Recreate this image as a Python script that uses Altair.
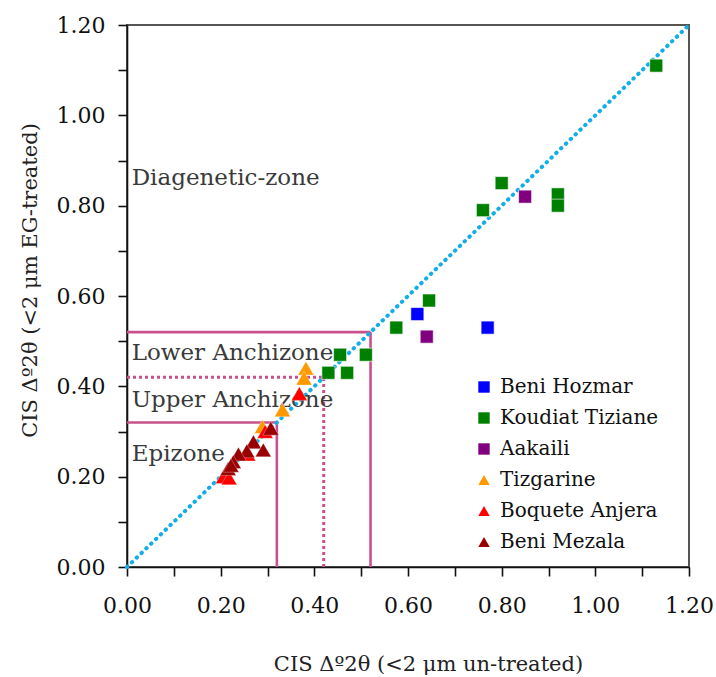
import altair as alt
import pandas as pd

# ---- data ----
sites = ["Beni Hozmar", "Koudiat Tiziane", "Aakaili", "Tizgarine", "Boquete Anjera", "Beni Mezala"]
site_colors = ["#0000ff", "#008000", "#800080", "#ff9900", "#ff0000", "#990000"]
site_shapes = ["square", "square", "square", "triangle-up", "triangle-up", "triangle-up"]
square_sites = ["Beni Hozmar", "Koudiat Tiziane", "Aakaili"]

pt_site = (["Beni Hozmar"] * 2 + ["Koudiat Tiziane"] * 11 + ["Aakaili"] * 2
           + ["Tizgarine"] * 4 + ["Boquete Anjera"] * 5 + ["Beni Mezala"] * 8)
pt_x = [0.62, 0.77,
        0.645, 0.575, 0.455, 0.51, 0.43, 0.47, 1.13, 0.80, 0.76, 0.92, 0.92,
        0.64, 0.85,
        0.382, 0.378, 0.332, 0.289,
        0.368, 0.295, 0.206, 0.218, 0.258,
        0.307, 0.270, 0.291, 0.256, 0.238, 0.227, 0.216, 0.222]
pt_y = [0.56, 0.53,
        0.59, 0.53, 0.47, 0.47, 0.43, 0.43, 1.11, 0.85, 0.79, 0.825, 0.80,
        0.51, 0.82,
        0.44, 0.418, 0.348, 0.311,
        0.384, 0.300, 0.200, 0.197, 0.250,
        0.307, 0.277, 0.259, 0.257, 0.250, 0.233, 0.218, 0.225]

# zone boundary segments (x, x2, y, y2, style)
seg_x = [0, 0.52, 0, 0.32, 0, 0.42]
seg_x2 = [0.52, 0.52, 0.32, 0.32, 0.42, 0.42]
seg_y = [0.52, 0, 0.32, 0, 0.42, 0]
seg_y2 = [0.52, 0.52, 0.32, 0.32, 0.42, 0.42]
seg_style = ["solid", "solid", "solid", "solid", "dotted", "dotted"]

# 1:1 line
diag_x = [0, 1.2]
diag_y = [0, 1.2]

zone_labels = ["Diagenetic-zone", "Lower Anchizone", "Upper Anchizone", "Epizone"]
zone_x = [0.01, 0.01, 0.01, 0.01]
zone_y = [0.862, 0.473, 0.370, 0.250]

tick_values = [0, 0.1, 0.2, 0.3, 0.4, 0.5, 0.6, 0.7, 0.8, 0.9, 1.0, 1.1, 1.2]

FONT = "DejaVu Serif"
PINK = "#c9508c"

pts = pd.DataFrame({"site": pt_site, "x": pt_x, "y": pt_y})
pts["kind"] = ["sq" if s in square_sites else "tri" for s in pt_site]
segs = pd.DataFrame({"x": seg_x, "x2": seg_x2, "y": seg_y, "y2": seg_y2, "style": seg_style})
diag = pd.DataFrame({"x": diag_x, "y": diag_y})
zones = pd.DataFrame({"label": zone_labels, "x": zone_x, "y": zone_y})

label_expr = "round(datum.value*10) % 2 == 0 ? format(datum.value, '.2f') : ''"

xscale = alt.Scale(domain=[0, 1.2], nice=False)
yscale = alt.Scale(domain=[0, 1.2], nice=False)

xaxis = alt.Axis(values=tick_values, labelExpr=label_expr, grid=False, labelFlush=False,
                 labelOverlap=False,
                 title="CIS Δº2θ (<2 μm un-treated)", titleX=301, titleY=97,
                 titleBaseline="middle")
yaxis = alt.Axis(values=tick_values, labelExpr=label_expr, grid=False, labelFlush=False,
                 labelOverlap=False,
                 title="CIS Δº2θ (<2 μm EG-treated)", titleX=-97, titleY=255,
                 titleBaseline="middle")

base_x = alt.X("x:Q", scale=xscale, axis=xaxis)
base_y = alt.Y("y:Q", scale=yscale, axis=yaxis)

solid = alt.Chart(segs).transform_filter(alt.datum.style == "solid").mark_rule(
    color=PINK, strokeWidth=2.6
).encode(x=base_x, x2="x2:Q", y=base_y, y2="y2:Q")

dotted = alt.Chart(segs).transform_filter(alt.datum.style == "dotted").mark_rule(
    color=PINK, strokeWidth=3, strokeDash=[3, 3]
).encode(x="x:Q", x2="x2:Q", y="y:Q", y2="y2:Q")

diag_line = alt.Chart(diag).mark_line(
    color="#12aeea", strokeWidth=4, strokeDash=[0.5, 6.2], strokeCap="round"
).encode(x="x:Q", y="y:Q")

zone_text = alt.Chart(zones).mark_text(
    align="left", baseline="middle", font=FONT, fontSize=23, color="#3a3a3a"
).encode(x="x:Q", y="y:Q", text="label:N")

legend = alt.Legend(title=None, orient="none", legendX=347, legendY=352,
                    labelFont=FONT, labelFontSize=20, labelColor="#111111",
                    symbolSize=130, symbolStrokeWidth=0, rowPadding=11,
                    labelOffset=6)
color_enc = alt.Color("site:N", scale=alt.Scale(domain=sites, range=site_colors), legend=legend)
shape_enc = alt.Shape("site:N", scale=alt.Scale(domain=sites, range=site_shapes), legend=legend)

squares = alt.Chart(pts).transform_filter(alt.datum.kind == "sq").mark_point(
    filled=True, opacity=1, size=170, stroke="white", strokeWidth=0.6
).encode(x="x:Q", y="y:Q", color=color_enc, shape=shape_enc)

triangles = alt.Chart(pts).transform_filter(alt.datum.kind == "tri").mark_point(
    filled=True, opacity=1, size=250, stroke="white", strokeWidth=0.3
).encode(x="x:Q", y="y:Q", color=color_enc, shape=shape_enc)

chart = alt.layer(solid, dotted, diag_line, zone_text, squares, triangles).properties(
    width=562, height=542,
    autosize=alt.AutoSizeParams(type="none"),
    padding={"left": 127, "top": 25, "right": 27, "bottom": 110},
    background="white",
).configure_view(
    stroke="#555555", strokeWidth=2
).configure_axis(
    domainColor="#111111", domainWidth=1.6, tickColor="#111111", tickWidth=1.6,
    tickSize=9, labelFont=FONT, labelFontSize=22, labelColor="#111111",
    titleFont=FONT, titleFontSize=21, titleFontWeight="normal", titleColor="#222222",
).configure_axisX(labelPadding=19).configure_axisY(labelPadding=13)

chart.save("out.html", embed_options={"renderer": "svg", "actions": False})
